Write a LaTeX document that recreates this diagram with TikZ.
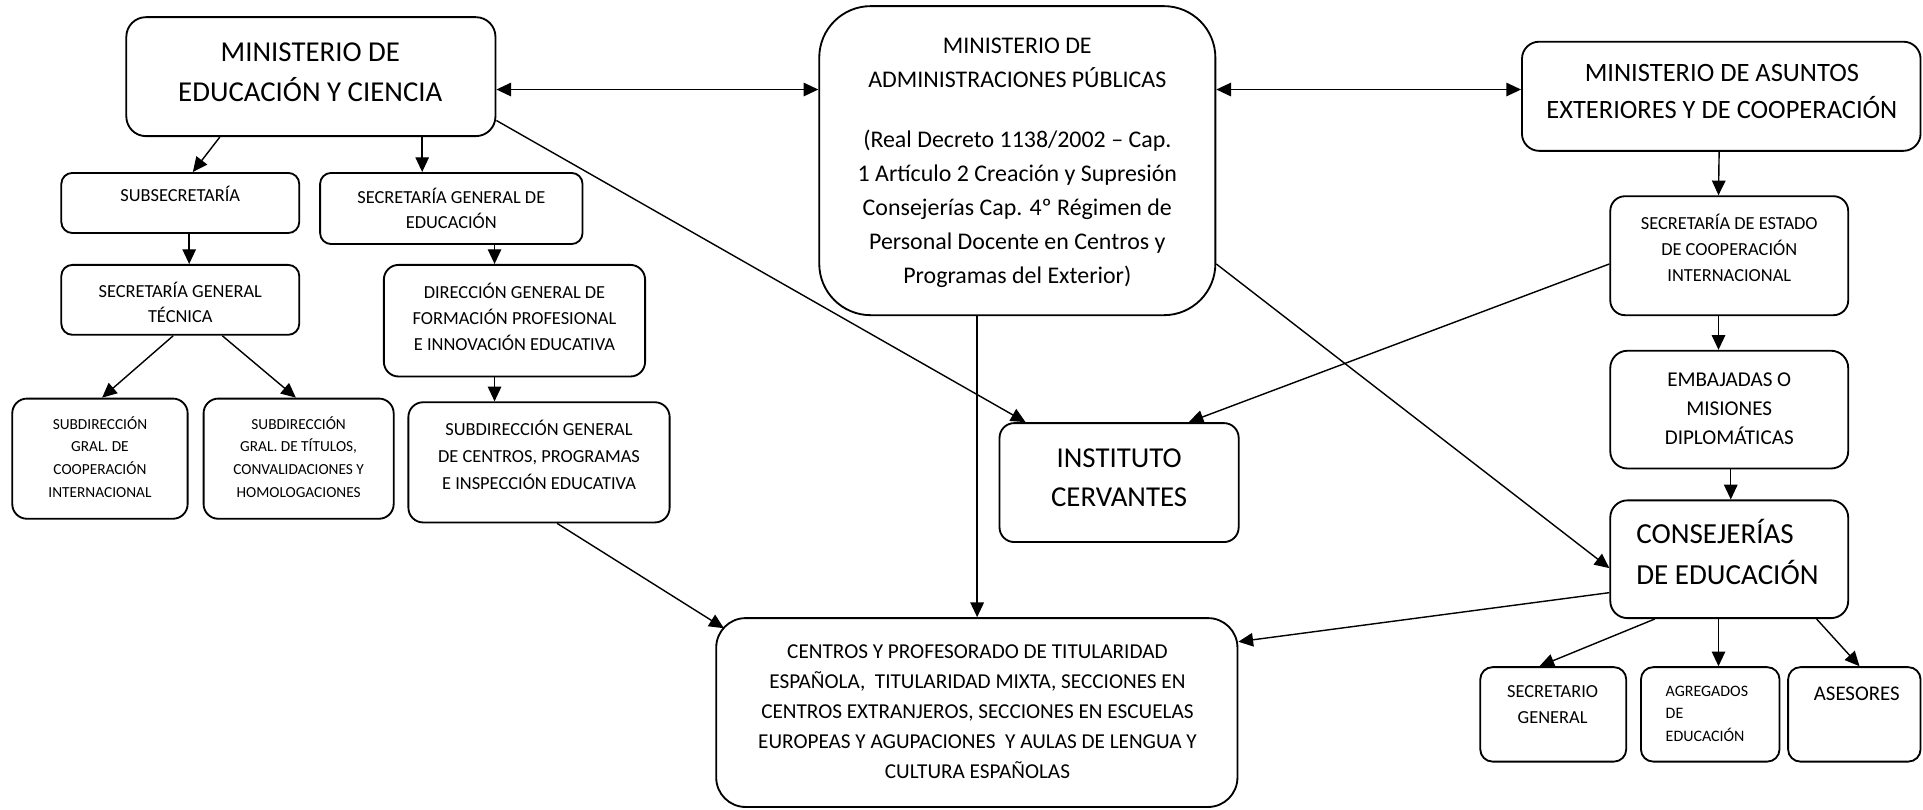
\documentclass[tikz,border=0pt]{standalone}
\usepackage{fontspec}
\setmainfont{Carlito}
\usetikzlibrary{arrows.meta}
\newcommand\fsz[2]{\fontsize{#1}{#2}\selectfont}
\begin{document}
\begin{tikzpicture}[x=1pt,y=-1pt,
  box/.style={draw, line width=1.5pt, inner sep=0pt},
  txt/.style={inner sep=0pt, align=center},
  conn/.style={line width=1.15pt, -{Triangle[length=12pt,width=11pt]}},
  biconn/.style={line width=1.15pt, {Triangle[length=12pt,width=11pt]}-{Triangle[length=12pt,width=11pt]}}]
\useasboundingbox (0,0) rectangle (1568,660);
\coordinate (ytop) at (0,73);
% boxes
\node[box, rounded corners=16pt, minimum width=301pt, minimum height=97pt] (mec) at (253.5,62.5) {};
\node[box, rounded corners=42pt, minimum width=323pt, minimum height=252pt] (map) at (829.5,131) {};
\node[box, rounded corners=14pt, minimum width=325pt, minimum height=89pt] (maec) at (1403.5,78.5) {};
\node[box, rounded corners=9pt, minimum width=194pt, minimum height=49pt] (sub) at (147,165.5) {};
\node[box, rounded corners=9pt, minimum width=214pt, minimum height=58pt] (sge) at (368,170) {};
\node[box, rounded corners=9pt, minimum width=194pt, minimum height=57pt] (sgt) at (147,244.5) {};
\node[box, rounded corners=12pt, minimum width=213pt, minimum height=91pt] (dg) at (419.5,261.5) {};
\node[box, rounded corners=12pt, minimum width=143pt, minimum height=98pt] (sub1) at (81.5,374) {};
\node[box, rounded corners=12pt, minimum width=155pt, minimum height=98pt] (sub2) at (243.5,374) {};
\node[box, rounded corners=12pt, minimum width=213pt, minimum height=98pt] (subdg) at (439.5,377) {};
\node[box, rounded corners=12pt, minimum width=195pt, minimum height=97pt] (inst) at (912.5,393.5) {};
\node[box, rounded corners=24pt, minimum width=425pt, minimum height=154pt] (cent) at (796.5,581) {};
\node[box, rounded corners=12pt, minimum width=194pt, minimum height=97pt] (sec) at (1410,208.5) {};
\node[box, rounded corners=14pt, minimum width=194pt, minimum height=96pt] (emb) at (1410,334) {};
\node[box, rounded corners=14pt, minimum width=194pt, minimum height=96pt] (cons) at (1410,456) {};
\node[box, rounded corners=10pt, minimum width=119pt, minimum height=77pt] (sg) at (1266.5,582.5) {};
\node[box, rounded corners=10pt, minimum width=113pt, minimum height=77pt] (agr) at (1394.5,582.5) {};
\node[box, rounded corners=10pt, minimum width=108pt, minimum height=77pt] (ase) at (1512,582.5) {};
% texts
\node[txt, font=\fsz{23.5}{33}] (t-mec) at (253,60) {\strut MINISTERIO DE\\\strut EDUCACIÓN Y CIENCIA};
\node[txt, font=\fsz{19.5}{27.5}] (t-map1) at (829.5,52) {\strut MINISTERIO DE\\\strut ADMINISTRACIONES PÚBLICAS};
\node[txt, font=\fsz{19.5}{27.75}] (t-map2) at (829.5,170.5) {\strut (Real Decreto 1138/2002 – Cap.\\\strut 1 Artículo 2 Creación y Supresión\\\strut Consejerías Cap. 4º Régimen de\\\strut Personal Docente en Centros y\\\strut Programas del Exterior)};
\node[txt, font=\fsz{21.6}{30}] (t-maec) at (1404,75.5) {\strut MINISTERIO DE ASUNTOS\\\strut EXTERIORES Y DE COOPERACIÓN};
\node[txt, font=\fsz{15}{21}] (t-sub) at (147,160.5) {\strut SUBSECRETARÍA};
\node[txt, font=\fsz{15}{21}] (t-sge) at (368,172) {\strut SECRETARÍA GENERAL DE\\\strut EDUCACIÓN};
\node[txt, font=\fsz{15}{20.5}] (t-sgt) at (147,248.5) {\strut SECRETARÍA GENERAL\\\strut TÉCNICA};
\node[txt, font=\fsz{15}{21}] (t-dg) at (419.5,260.5) {\strut DIRECCIÓN GENERAL DE\\\strut FORMACIÓN PROFESIONAL\\\strut E INNOVACIÓN EDUCATIVA};
\node[txt, font=\fsz{12.5}{18.5}] (t-sub1) at (81.5,374) {\strut SUBDIRECCIÓN\\\strut GRAL. DE\\\strut COOPERACIÓN\\\strut INTERNACIONAL};
\node[txt, font=\fsz{12.5}{18.5}] (t-sub2) at (243.5,374) {\strut SUBDIRECCIÓN\\\strut GRAL. DE TÍTULOS,\\\strut CONVALIDACIONES Y\\\strut HOMOLOGACIONES};
\node[txt, font=\fsz{15}{22}] (t-subdg) at (439.5,372.5) {\strut SUBDIRECCIÓN GENERAL\\\strut DE CENTROS, PROGRAMAS\\\strut E INSPECCIÓN EDUCATIVA};
\node[txt, font=\fsz{23.5}{32}] (t-inst) at (912.5,390.5) {\strut INSTITUTO\\\strut CERVANTES};
\node[txt, font=\fsz{17.3}{24.5}] (t-cent) at (797,581) {\strut CENTROS Y PROFESORADO DE TITULARIDAD\\\strut ESPAÑOLA,~ TITULARIDAD MIXTA, SECCIONES EN\\\strut CENTROS EXTRANJEROS, SECCIONES EN ESCUELAS\\\strut EUROPEAS Y AGUPACIONES~ Y AULAS DE LENGUA Y\\\strut CULTURA ESPAÑOLAS};
\node[txt, font=\fsz{15}{21.5}] (t-sec) at (1410,204) {\strut SECRETARÍA DE ESTADO\\\strut DE COOPERACIÓN\\\strut INTERNACIONAL};
\node[txt, font=\fsz{17.2}{24}] (t-emb) at (1410,334) {\strut EMBAJADAS O\\\strut MISIONES\\\strut DIPLOMÁTICAS};
\node[txt, align=left, anchor=west, font=\fsz{23.7}{34}] (t-cons) at (1334,453) {\strut CONSEJERÍAS\\\strut DE EDUCACIÓN};
\node[txt, font=\fsz{15}{21}] (t-sg) at (1266,575) {\strut SECRETARIO\\\strut GENERAL};
\node[txt, align=left, anchor=west, font=\fsz{13}{18.5}] (t-agr) at (1358,582.5) {\strut AGREGADOS\\\strut DE\\\strut EDUCACIÓN};
\node[txt, font=\fsz{17}{24}] (t-ase) at (1514,566.5) {\strut ASESORES};
% connectors
\draw[biconn] (mec.east |- ytop) -- (map.west |- ytop);
\draw[biconn] (map.east |- ytop) -- (maec.west |- ytop);
\draw[conn] ([xshift=77pt]mec.south west) -- ([xshift=108pt]sub.north west);
\draw[conn] ([xshift=242pt]mec.south west) -- ([xshift=84pt]sge.north west);
\draw[conn] ([xshift=105pt]sub.south west) -- ([xshift=105pt]sgt.north west);
\draw[conn] ([xshift=92pt]sgt.south west) -- ([xshift=74pt]sub1.north west);
\draw[conn] ([xshift=132pt]sgt.south west) -- ([xshift=76pt]sub2.north west);
\draw[conn] ([xshift=143pt]sge.south west) -- ([xshift=91pt]dg.north west);
\draw[conn] ([xshift=91pt]dg.south west) -- ([xshift=71pt]subdg.north west);
\draw[conn] ([xshift=122pt]subdg.south west) -- ([xshift=7pt,yshift=-9pt]cent.north west);
\draw[conn] ([yshift=-85pt]mec.north east) -- ([xshift=22pt]inst.north west);
\draw[conn] ([yshift=-56pt]sec.north west) -- ([xshift=155pt]inst.north west);
\draw[conn] ([xshift=129.5pt]map.south west) -- ([xshift=213.5pt]cent.north west);
\draw[conn] ([yshift=-211pt]map.north east) -- ([yshift=-56pt]cons.north west);
\draw[conn] ([yshift=-76pt]cons.north west) -- ([yshift=-20pt]cent.north east);
\draw[conn] ([xshift=161.5pt]maec.south west) -- ([xshift=89pt]sec.north west);
\draw[conn] ([xshift=89pt]sec.south west) -- ([xshift=89pt]emb.north west);
\draw[conn] ([xshift=99pt]emb.south west) -- ([xshift=99pt]cons.north west);
\draw[conn] ([xshift=37pt]cons.south west) -- ([xshift=49pt]sg.north west);
\draw[conn] ([xshift=89pt]cons.south west) -- ([xshift=64pt]agr.north west);
\draw[conn] ([xshift=169pt]cons.south west) -- ([xshift=59pt]ase.north west);
\end{tikzpicture}
\end{document}
